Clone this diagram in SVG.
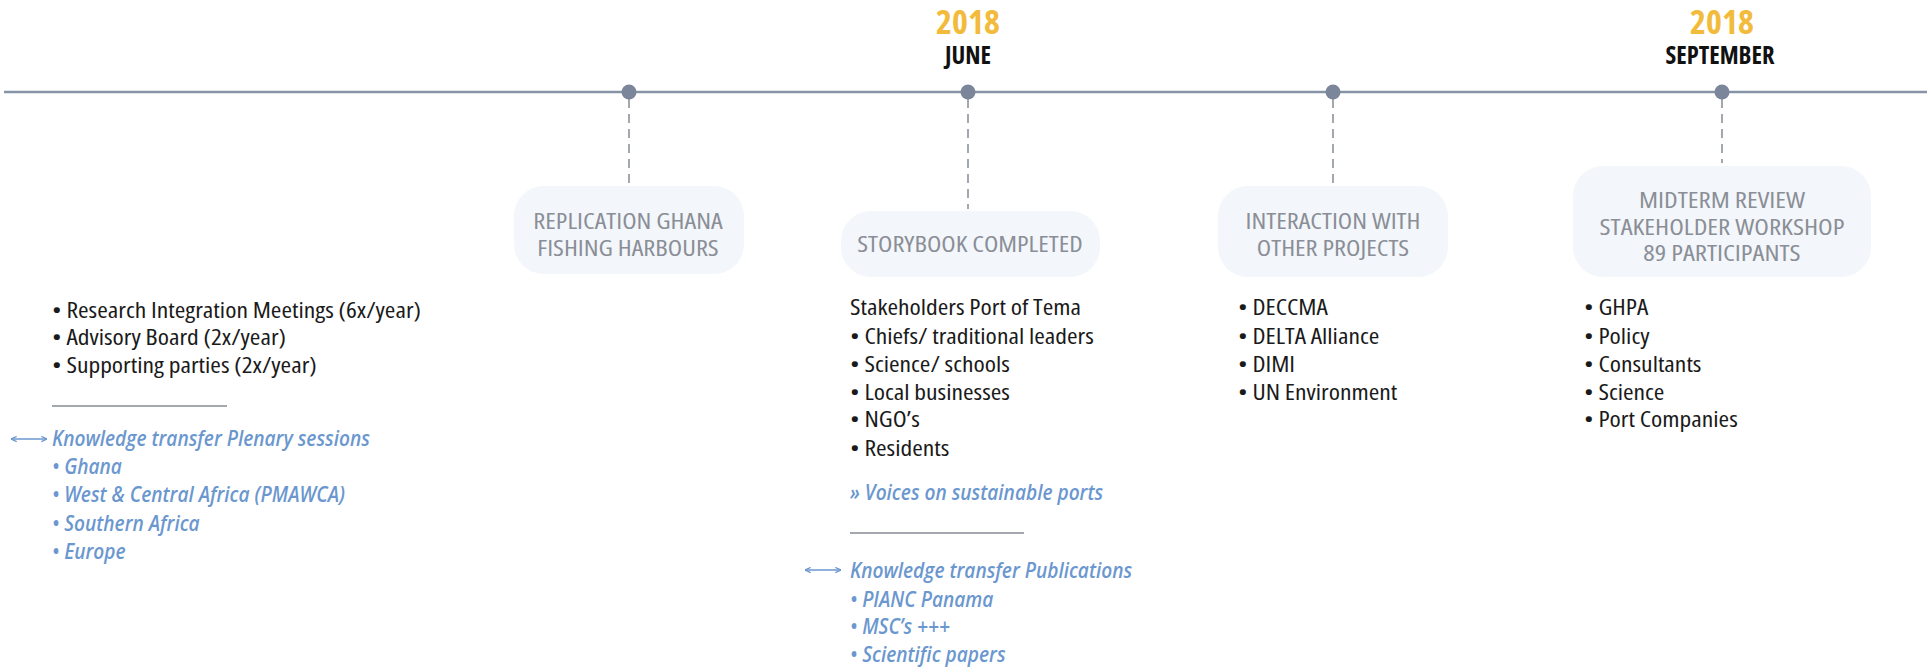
<svg xmlns="http://www.w3.org/2000/svg" width="1927" height="669" viewBox="0 0 1927 669">
<style>
text{font-family:"Open Sans","Liberation Sans",sans-serif;font-stretch:condensed}
.yr{font-size:34px;font-weight:700;fill:#f2bb3c;text-anchor:middle}
.mo{font-size:24.5px;font-weight:700;fill:#111;text-anchor:middle}
.bx{font-size:22px;fill:#8a8e96;text-anchor:middle}
.t{font-size:21.5px;fill:#1a1a1a}
.b{font-size:21px;fill:#6b97cf;font-style:italic;font-weight:600;font-stretch:normal}
.box{fill:#f3f6fa}
.dash{stroke:#9a9ea6;stroke-width:1.8;stroke-dasharray:9 6;fill:none}
.rule{stroke:#a4a7ae;stroke-width:1.8}
.dot{fill:#7b869a}
.arr{stroke:#6b97cf;stroke-width:1.4;fill:none}
</style>
<defs>
<marker id="ah" viewBox="0 0 8 8" refX="7.5" refY="4" markerUnits="userSpaceOnUse" markerWidth="7" markerHeight="7" orient="auto-start-reverse"><path d="M1,1 L7.5,4 L1,7" fill="none" stroke="#6b97cf" stroke-width="1.3"/></marker>
</defs>
<g id="timeline">
<line x1="4" y1="92" x2="1927" y2="92" stroke="#8793a6" stroke-width="2.7"/>
</g>
<g id="connectors">
<line class="dash" x1="629" y1="99" x2="629" y2="184"/>
<line class="dash" x1="968" y1="99" x2="968" y2="209"/>
<line class="dash" x1="1333" y1="99" x2="1333" y2="184"/>
<line class="dash" x1="1722" y1="99" x2="1722" y2="163"/>
<line class="arr" x1="11" y1="439" x2="47" y2="439" marker-start="url(#ah)" marker-end="url(#ah)"/>
<line class="arr" x1="805" y1="570" x2="841" y2="570" marker-start="url(#ah)" marker-end="url(#ah)"/>
</g>
<g id="dots">
<circle class="dot" cx="629" cy="92" r="7.5"/>
<circle class="dot" cx="968" cy="92" r="7.5"/>
<circle class="dot" cx="1333" cy="92" r="7.5"/>
<circle class="dot" cx="1722" cy="92" r="7.5"/>
</g>
<g id="date-june">
<text class="yr" x="968" y="34">2018</text>
<text class="mo" x="968" y="64">JUNE</text>
</g>
<g id="date-september">
<text class="yr" x="1722" y="34">2018</text>
<text class="mo" x="1720" y="64">SEPTEMBER</text>
</g>
<g id="node-replication">
<rect class="box" x="514" y="186" width="230" height="88" rx="30"/>
<g transform="matrix(1.2,0,0,1,-125.6,0)">
<text class="bx" x="628" y="229">REPLICATION GHANA</text>
<text class="bx" x="628" y="256">FISHING HARBOURS</text>
</g>
</g>
<g id="node-storybook">
<rect class="box" x="841" y="211" width="259" height="66" rx="30"/>
<g transform="matrix(1.2,0,0,1,-194,0)">
<text class="bx" x="970" y="252">STORYBOOK COMPLETED</text>
</g>
</g>
<g id="node-interaction">
<rect class="box" x="1218" y="186" width="230" height="91" rx="30"/>
<g transform="matrix(1.2,0,0,1,-266.6,0)">
<text class="bx" x="1333" y="229">INTERACTION WITH</text>
<text class="bx" x="1333" y="256">OTHER PROJECTS</text>
</g>
</g>
<g id="node-midterm">
<rect class="box" x="1573" y="166" width="298" height="111" rx="30"/>
<g transform="matrix(1.22,0,0,1,-378.84,0)">
<text class="bx" x="1722" y="208">MIDTERM REVIEW</text>
<text class="bx" x="1722" y="235">STAKEHOLDER WORKSHOP</text>
<text class="bx" x="1722" y="261">89 PARTICIPANTS</text>
</g>
</g>
<g id="notes-general">
<g transform="matrix(1.19,0,0,1,-9.88,0)">
<text class="t" x="52" y="318">• Research Integration Meetings (6x/year)</text>
<text class="t" x="52" y="345">• Advisory Board (2x/year)</text>
<text class="t" x="52" y="373">• Supporting parties (2x/year)</text>
</g>
<line class="rule" x1="52" y1="406" x2="227" y2="406"/>
<g transform="matrix(0.91,0,0,1,4.68,0)">
<text class="b" x="52" y="446">Knowledge transfer Plenary sessions</text>
<text class="b" x="52" y="474">• Ghana</text>
<text class="b" x="52" y="502">• West &amp; Central Africa (PMAWCA)</text>
<text class="b" x="52" y="531">• Southern Africa</text>
<text class="b" x="52" y="559">• Europe</text>
</g>
</g>
<g id="notes-storybook">
<g transform="matrix(1.19,0,0,1,-161.5,0)">
<text class="t" x="850" y="315">Stakeholders Port of Tema</text>
<text class="t" x="850" y="344">• Chiefs/ traditional leaders</text>
<text class="t" x="850" y="372">• Science/ schools</text>
<text class="t" x="850" y="400">• Local businesses</text>
<text class="t" x="850" y="427">• NGO’s</text>
<text class="t" x="850" y="456">• Residents</text>
</g>
<line class="rule" x1="850" y1="533" x2="1024" y2="533"/>
<g transform="matrix(0.91,0,0,1,76.5,0)">
<text class="b" x="850" y="500">» Voices on sustainable ports</text>
<text class="b" x="850" y="578">Knowledge transfer Publications</text>
<text class="b" x="850" y="607">• PIANC Panama</text>
<text class="b" x="850" y="634">• MSC’s +++</text>
<text class="b" x="850" y="662">• Scientific papers</text>
</g>
</g>
<g id="notes-interaction">
<g transform="matrix(1.19,0,0,1,-235.22,0)">
<text class="t" x="1238" y="315">• DECCMA</text>
<text class="t" x="1238" y="344">• DELTA Alliance</text>
<text class="t" x="1238" y="372">• DIMI</text>
<text class="t" x="1238" y="400">• UN Environment</text>
</g>
</g>
<g id="notes-midterm">
<g transform="matrix(1.19,0,0,1,-300.96,0)">
<text class="t" x="1584" y="315">• GHPA</text>
<text class="t" x="1584" y="344">• Policy</text>
<text class="t" x="1584" y="372">• Consultants</text>
<text class="t" x="1584" y="400">• Science</text>
<text class="t" x="1584" y="427">• Port Companies</text>
</g>
</g>
</svg>
